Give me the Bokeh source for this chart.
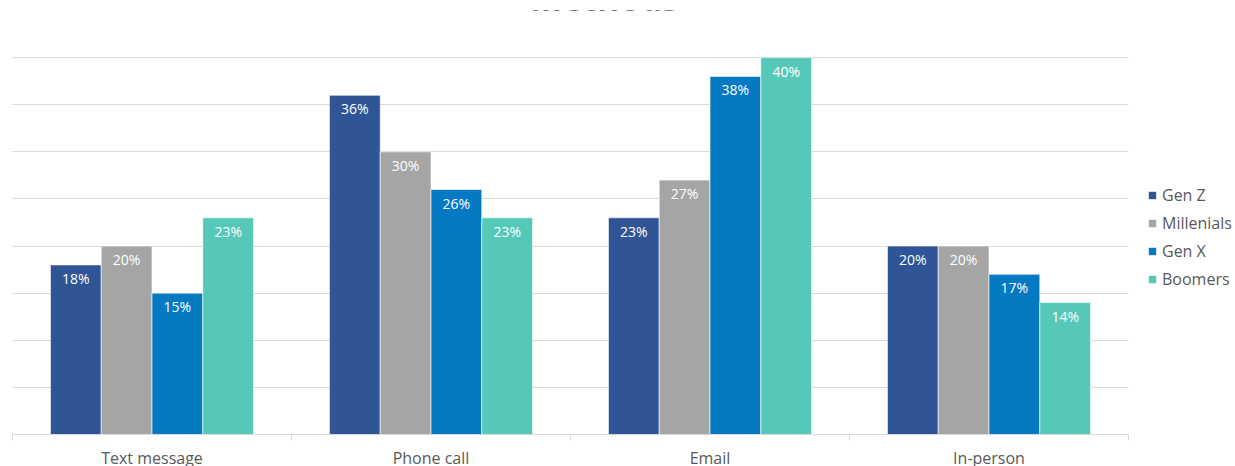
from bokeh.plotting import figure
from bokeh.models import (ColumnDataSource, FixedTicker, LinearAxis, Legend, LegendItem,
                          LabelSet, Label, Range1d, Grid)
from bokeh.core.properties import value
from bokeh.embed import file_html
from bokeh.resources import INLINE

title_text = "Methods"
categories = ["Text message", "Phone call", "Email", "In-person"]
series_names = ["Gen Z", "Millenials", "Gen X", "Boomers"]
gen_z = [18, 36, 23, 20]
millenials = [20, 30, 27, 20]
gen_x = [15, 26, 38, 17]
boomers = [23, 23, 40, 14]
series_values = [gen_z, millenials, gen_x, boomers]
colors = ["#2F5597", "#A5A5A5", "#0579C2", "#56C8B8"]

FONT = "Open Sans"
TEXT_COLOR = "#595959"
GRID_COLOR = "#D9D9D9"

p = figure(frame_width=1116, frame_height=424, x_range=Range1d(0, len(categories)), y_range=Range1d(0, 45),
           output_backend="svg", toolbar_location=None,
           x_axis_location=None, y_axis_location=None,
           min_border_left=12, min_border_right=0, min_border_top=10, min_border_bottom=0)
p.outline_line_color = None
p.background_fill_color = "white"
p.border_fill_color = "white"
p.center = [r for r in p.center if not isinstance(r, Grid)]

p.add_layout(Grid(dimension=1, ticker=FixedTicker(ticks=list(range(5, 50, 5))),
                  grid_line_color=GRID_COLOR, grid_line_width=1))

# boundary ticks axis
ax1 = LinearAxis(ticker=FixedTicker(ticks=list(range(len(categories) + 1))),
                 major_label_overrides={i: "" for i in range(len(categories) + 1)},
                 axis_line_color=GRID_COLOR, major_tick_line_color=GRID_COLOR,
                 major_tick_in=0, major_tick_out=6, minor_tick_line_color=None,
                 major_label_text_font_size="1px", major_label_standoff=0)
p.add_layout(ax1, "below")

centers = [i + 0.5 for i in range(len(categories))]
ax2 = LinearAxis(ticker=FixedTicker(ticks=centers),
                 major_label_overrides={c: name for c, name in zip(centers, categories)},
                 axis_line_color=None, major_tick_line_color=None, minor_tick_line_color=None,
                 major_tick_in=0, major_tick_out=0,
                 major_label_text_font=FONT, major_label_text_font_size="16px",
                 major_label_text_color=TEXT_COLOR, major_label_standoff=6)
p.add_layout(ax2, "below")

bar_w = 0.182
offsets = [-1.5 * bar_w, -0.5 * bar_w, 0.5 * bar_w, 1.5 * bar_w]
items = []
for name, vals, col, off in zip(series_names, series_values, colors, offsets):
    src = ColumnDataSource(dict(x=[c + off for c in centers], top=vals,
                                label=[f"{v}%" for v in vals]))
    r = p.vbar(x="x", top="top", width=bar_w, source=src, fill_color=col,
               line_color="white", line_alpha=0.6, line_width=1)
    items.append(LegendItem(label=name, renderers=[r]))
    labels = LabelSet(x="x", y="top", text="label", source=src, text_align="center",
                      text_baseline="top", y_offset=-4, text_color="white",
                      text_font=value(FONT), text_font_size="14px")
    p.add_layout(labels)

title = Label(x=len(categories) / 2, y=437, x_units="data", y_units="screen", x_offset=34,
              text=title_text, text_font=FONT, text_font_size="34px", text_font_style="bold",
              text_color="black", text_align="center", text_baseline="alphabetic")
p.add_layout(title)

legend = Legend(items=items, location=(19, 144), orientation="vertical",
                glyph_width=10, glyph_height=10, label_text_font=FONT,
                label_text_font_size="16px", label_text_color=TEXT_COLOR,
                spacing=6, padding=0, margin=0, border_line_color=None,
                background_fill_alpha=0, label_standoff=5, label_height=20)
p.add_layout(legend, "right")

open("out.html", "w").write(file_html(p, INLINE))
